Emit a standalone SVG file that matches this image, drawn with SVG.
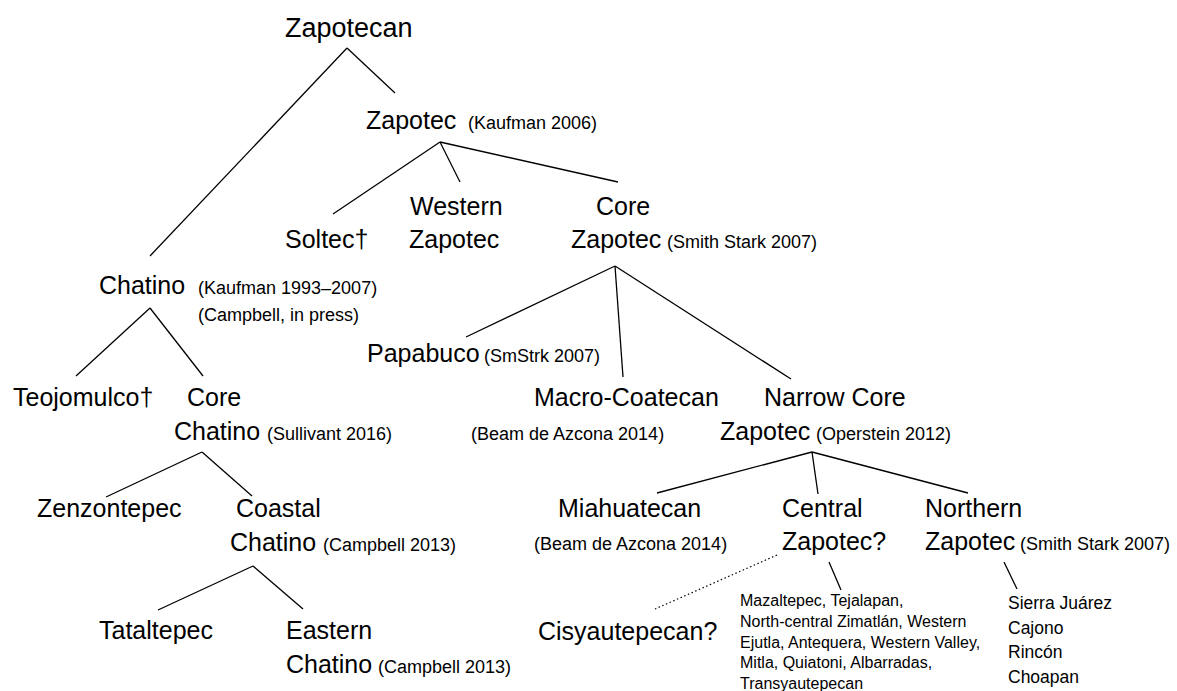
<svg xmlns="http://www.w3.org/2000/svg" width="1177" height="691" viewBox="0 0 1177 691">
<style>
text{font-family:"Liberation Sans",Arial,sans-serif;fill:#000}
.m{font-size:25px}
.t{font-size:27px}
.s{font-size:18px}
.b{font-size:16px}
.l{font-size:17.5px}
.c line{stroke:#000;stroke-width:1.3;fill:none}
.c line.d{stroke-dasharray:1.5 2.5;stroke-width:1.2}
</style>
<rect width="1177" height="691" fill="#fff"/>
<g class="c" id="connectors">
<line x1="347" y1="48" x2="150" y2="256"/>
<line x1="347" y1="48" x2="395" y2="93"/>
<line x1="440" y1="142" x2="333" y2="214"/>
<line x1="440" y1="142" x2="460" y2="182"/>
<line x1="440" y1="142" x2="618" y2="182"/>
<line x1="615" y1="266" x2="466" y2="337"/>
<line x1="615" y1="266" x2="623" y2="377"/>
<line x1="615" y1="266" x2="791" y2="379"/>
<line x1="150" y1="308" x2="76" y2="376"/>
<line x1="150" y1="308" x2="203" y2="376"/>
<line x1="202" y1="452" x2="106" y2="497"/>
<line x1="202" y1="452" x2="252" y2="496"/>
<line x1="253" y1="566" x2="158" y2="610"/>
<line x1="253" y1="566" x2="303" y2="609"/>
<line x1="812" y1="452" x2="657" y2="493"/>
<line x1="812" y1="452" x2="818" y2="494"/>
<line x1="812" y1="452" x2="968" y2="493"/>
<line x1="829" y1="562" x2="841" y2="590"/>
<line class="d" x1="777" y1="555" x2="655" y2="609"/>
<line x1="1004" y1="562" x2="1017" y2="589"/>
</g>
<g id="zapotecan"><text class="t" x="285" y="37">Zapotecan</text></g>
<g id="zapotec"><text class="m" x="366" y="129">Zapotec<tspan class="s" x="468">(Kaufman 2006)</tspan></text></g>
<g id="soltec"><text class="m" x="285" y="248">Soltec†</text></g>
<g id="western-zapotec"><text class="m" x="410" y="215">Western</text><text class="m" x="409" y="248">Zapotec</text></g>
<g id="core-zapotec"><text class="m" x="596" y="215">Core</text><text class="m" x="571" y="248">Zapotec<tspan class="s" x="667">(Smith Stark 2007)</tspan></text></g>
<g id="papabuco"><text class="m" x="367" y="362">Papabuco<tspan class="s" x="484">(SmStrk 2007)</tspan></text></g>
<g id="chatino"><text class="m" x="99" y="294">Chatino<tspan class="s" x="198">(Kaufman 1993–2007)</tspan></text><text class="s" x="198" y="321">(Campbell, in press)</text></g>
<g id="teojomulco"><text class="m" x="13" y="406">Teojomulco†</text></g>
<g id="core-chatino"><text class="m" x="187" y="406">Core</text><text class="m" x="174" y="440">Chatino<tspan class="s" x="267">(Sullivant 2016)</tspan></text></g>
<g id="zenzontepec"><text class="m" x="37" y="517">Zenzontepec</text></g>
<g id="coastal-chatino"><text class="m" x="236" y="517">Coastal</text><text class="m" x="230" y="551">Chatino<tspan class="s" x="323">(Campbell 2013)</tspan></text></g>
<g id="tataltepec"><text class="m" x="99" y="639">Tataltepec</text></g>
<g id="eastern-chatino"><text class="m" x="286" y="639">Eastern</text><text class="m" x="286" y="673">Chatino<tspan class="s" x="378">(Campbell 2013)</tspan></text></g>
<g id="macro-coatecan"><text class="m" x="534" y="406">Macro-Coatecan</text><text class="s" x="471" y="440">(Beam de Azcona 2014)</text></g>
<g id="narrow-core"><text class="m" x="764" y="406">Narrow Core</text><text class="m" x="720" y="440">Zapotec<tspan class="s" x="816">(Operstein 2012)</tspan></text></g>
<g id="miahuatecan"><text class="m" x="558" y="517">Miahuatecan</text><text class="s" x="534" y="550">(Beam de Azcona 2014)</text></g>
<g id="central-zapotec"><text class="m" x="782" y="517">Central</text><text class="m" x="782" y="550">Zapotec?</text></g>
<g id="northern-zapotec"><text class="m" x="925" y="517">Northern</text><text class="m" x="925" y="550">Zapotec<tspan class="s" x="1020">(Smith Stark 2007)</tspan></text></g>
<g id="cisyautepecan"><text class="m" x="538" y="640">Cisyautepecan?</text></g>
<g id="central-list"><text class="b" x="740" y="606">Mazaltepec, Tejalapan,</text><text class="b" x="740" y="627">North-central Zimatlán, Western</text><text class="b" x="740" y="648">Ejutla, Antequera, Western Valley,</text><text class="b" x="740" y="668">Mitla, Quiatoni, Albarradas,</text><text class="b" x="740" y="689">Transyautepecan</text></g>
<g id="northern-list"><text class="l" x="1008" y="609">Sierra Juárez</text><text class="l" x="1008" y="633.5">Cajono</text><text class="l" x="1008" y="658">Rincón</text><text class="l" x="1008" y="682.5">Choapan</text></g>
</svg>
